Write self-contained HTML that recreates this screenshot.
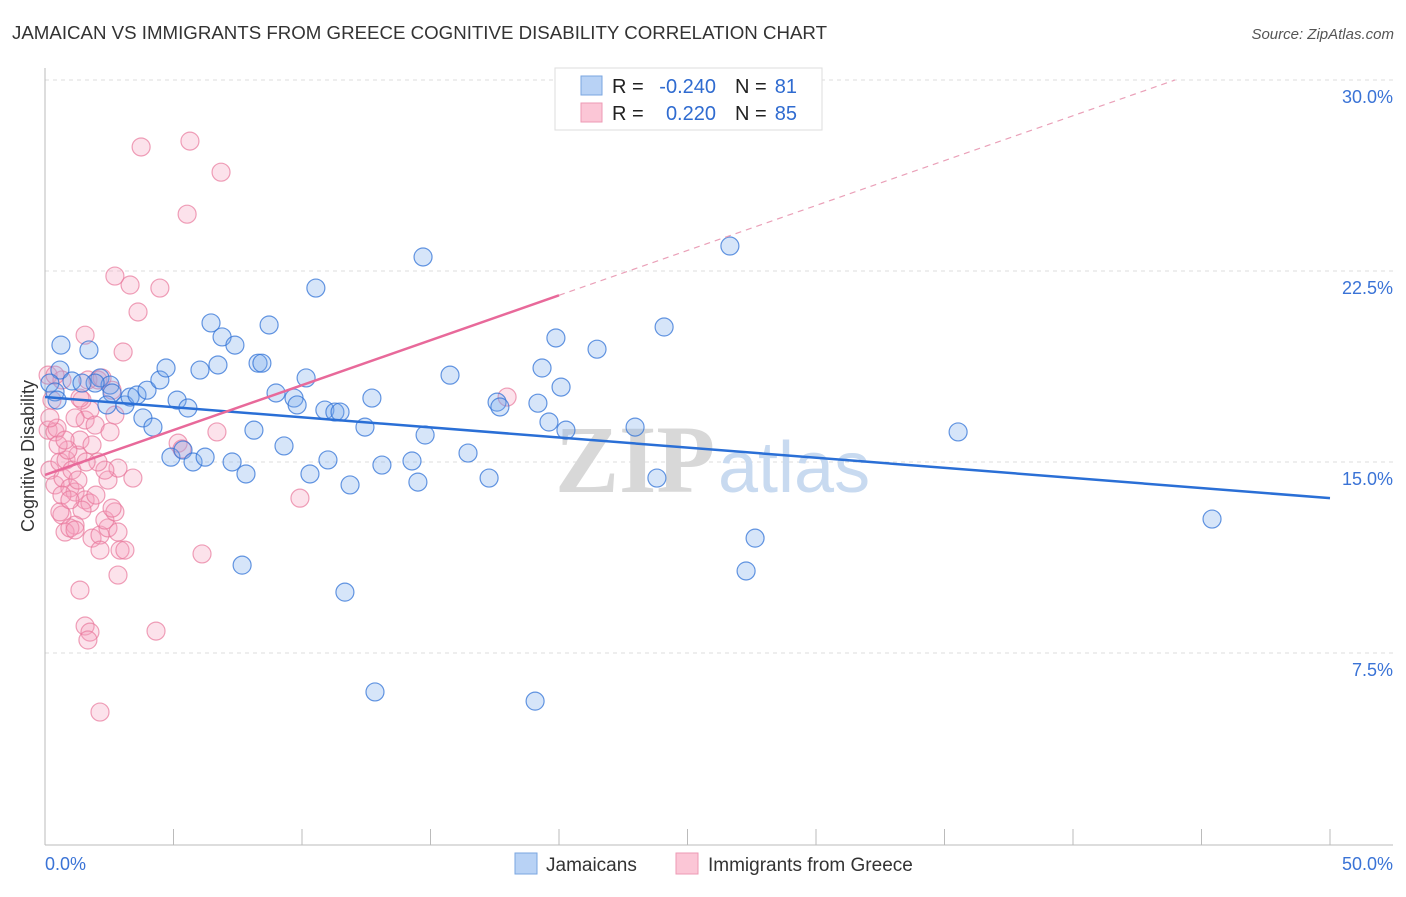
<!DOCTYPE html>
<html><head><meta charset="utf-8"><style>
body{margin:0;background:#fff;width:1406px;height:892px;overflow:hidden;font-family:"Liberation Sans",sans-serif}
</style></head><body>
<svg width="1406" height="892" xmlns="http://www.w3.org/2000/svg">
<text x="12" y="39" font-size="18" fill="#333" textLength="815" lengthAdjust="spacingAndGlyphs">JAMAICAN VS IMMIGRANTS FROM GREECE COGNITIVE DISABILITY CORRELATION CHART</text>
<text x="1394" y="39" font-size="15" fill="#555" font-style="italic" text-anchor="end">Source: ZipAtlas.com</text>
<g id="grid"></g>
<text x="555" y="492" font-size="96" font-family="Liberation Serif,serif" font-weight="bold" fill="#d8d8d8">ZIP</text>
<text x="718" y="492" font-size="72" fill="#c8daf0">atlas</text>
<g id="axes"></g>
<g id="marks"></g>
<text x="34" y="456" font-size="18" fill="#333" text-anchor="middle" transform="rotate(-90 34 456)">Cognitive Disability</text>
<g>
<rect x="555" y="68" width="267" height="62" fill="#fff" stroke="#ddd"/>
<rect x="581" y="76" width="21" height="19" fill="#b8d2f5" stroke="#7aa6e0"/>
<rect x="581" y="103" width="21" height="19" fill="#fbc6d6" stroke="#ee9ab4"/>
<text x="612" y="93" font-size="20" fill="#222">R =</text>
<text x="716" y="93" font-size="20" fill="#2f6bd0" text-anchor="end">-0.240</text>
<text x="735" y="93" font-size="20" fill="#222">N =</text>
<text x="797" y="93" font-size="20" fill="#2f6bd0" text-anchor="end">81</text>
<text x="612" y="120" font-size="20" fill="#222">R =</text>
<text x="716" y="120" font-size="20" fill="#2f6bd0" text-anchor="end">0.220</text>
<text x="735" y="120" font-size="20" fill="#222">N =</text>
<text x="797" y="120" font-size="20" fill="#2f6bd0" text-anchor="end">85</text>
</g>
<g>
<rect x="515" y="853" width="22" height="21" fill="#b8d2f5" stroke="#7aa6e0"/>
<text x="546" y="871" font-size="19" fill="#333">Jamaicans</text>
<rect x="676" y="853" width="22" height="21" fill="#fbc6d6" stroke="#ee9ab4"/>
<text x="708" y="871" font-size="19" fill="#333">Immigrants from Greece</text>
</g>
</svg>
<script>
const yTicks=[7.5,15,22.5,30];
const yTickLabels=["7.5%","15.0%","22.5%","30.0%"];
const xTickLabels=["0.0%","50.0%"];
const blueX=[0.62,1.71,0.58,0.19,0.39,1.05,2.14,2.53,1.95,2.61,3.11,2.41,3.31,3.58,3.97,4.47,4.71,3.81,4.20,5.14,5.56,6.03,6.46,6.89,7.39,6.73,8.29,8.44,8.72,8.99,9.69,9.81,10.16,10.54,10.89,11.28,11.48,12.45,12.72,14.71,15.76,14.79,17.59,17.70,19.18,19.34,19.88,20.08,20.27,19.61,21.48,22.96,24.09,26.65,35.53,45.41,4.90,5.37,5.76,6.23,7.28,7.82,8.13,9.30,10.31,11.01,11.87,13.11,14.28,14.51,16.46,17.28,23.81,27.63,27.28,7.67,11.67,12.84,19.07,1.44,0.47];
const blueY=[19.59,19.40,18.61,18.10,17.75,18.18,18.30,18.02,18.10,17.71,17.24,17.24,17.55,17.63,17.82,18.22,18.69,16.73,16.37,17.43,17.12,18.61,20.46,19.91,19.59,18.81,18.88,18.88,20.38,17.71,17.51,17.24,18.30,21.83,17.04,16.96,16.96,16.37,17.51,23.05,18.41,16.06,17.35,17.16,17.31,18.69,19.87,17.94,16.25,16.57,19.43,16.37,20.30,23.48,16.18,12.76,15.19,15.47,15.00,15.19,15.00,14.53,16.25,15.63,14.53,15.08,14.10,14.88,15.04,14.21,15.35,14.37,14.37,12.01,10.72,10.95,9.89,5.97,5.61,18.10,17.43];
const pinkX=[0.12,0.27,0.12,0.39,0.47,0.19,0.39,0.58,0.82,0.70,0.97,1.17,1.05,1.28,1.36,1.56,1.75,1.95,1.44,1.67,1.36,1.28,1.56,1.75,1.98,1.44,1.17,0.66,0.78,0.97,1.17,1.83,2.14,2.45,2.33,2.72,2.84,2.92,3.11,2.84,2.45,2.84,2.53,2.72,2.61,3.04,3.62,3.31,2.72,4.47,1.56,2.06,2.22,2.33,3.42,1.36,1.56,1.75,1.67,2.14,4.32,6.11,6.69,5.18,5.33,9.92,17.98,3.74,5.64,6.85,5.53,0.58,0.66,0.89,1.17,0.19,0.51,0.78,1.83,2.06,1.60,2.14,0.97,2.61,0.66,0.39];
const pinkY=[18.41,17.43,16.25,16.18,16.33,14.68,14.10,15.00,15.08,14.37,13.98,13.82,14.68,15.27,15.86,16.65,17.04,16.45,17.43,18.22,17.51,14.29,13.51,13.39,13.70,13.11,12.52,12.92,12.25,12.41,12.33,12.01,12.13,12.41,12.72,13.04,12.25,11.54,11.54,10.56,14.29,14.76,16.18,16.84,17.82,19.32,20.89,21.95,22.30,21.83,19.98,18.22,18.30,14.68,14.37,9.97,8.56,8.32,8.01,5.18,8.36,11.39,16.18,15.74,15.51,13.58,17.55,27.37,27.60,26.38,24.73,13.04,13.70,15.47,16.73,16.73,15.67,15.86,15.67,15.00,15.00,11.54,13.51,13.19,18.22,18.41];
const blueTrend=[17.55,13.58];
const pinkTrend=[14.49,0.3527];
const NS="http://www.w3.org/2000/svg";
const X=v=>45+v*25.7, Y=v=>844-v*25.467;
function mk(t,a,p){const e=document.createElementNS(NS,t);for(const k in a)e.setAttribute(k,a[k]);p.appendChild(e);return e;}
const grid=document.getElementById('grid'),axes=document.getElementById('axes'),marks=document.getElementById('marks');
yTicks.forEach((v,i)=>{
const l=mk('line',{x1:45,x2:1393,y1:Y(v),y2:Y(v),stroke:'#ddd','stroke-dasharray':'4,4'},grid);


const t=mk('text',{x:1393,y:Y(v)+23,'font-size':18,fill:'#3a73d6','text-anchor':'end'},axes);
t.textContent=yTickLabels[i];


});
mk('line',{x1:45,x2:45,y1:68,y2:845,stroke:'#bbb'},axes);
mk('line',{x1:45,x2:1393,y1:845,y2:845,stroke:'#bbb'},axes);
for(let i=0;i<=10;i++){mk('line',{x1:X(i*5),x2:X(i*5),y1:829,y2:845,stroke:'#bbb'},axes);}
[0,50].forEach((v,i)=>{const t=mk('text',{x:i?1393:45,y:870,'font-size':18,fill:'#3a73d6','text-anchor':i?'end':'start'},axes);
t.textContent=xTickLabels[i];

});
function dots(xs,ys,fill,stroke,name){xs.forEach((x,i)=>{const c=mk('circle',{cx:X(x),cy:Y(ys[i]),r:9,fill:fill,stroke:stroke,'stroke-width':1.2},marks);

});}
dots(pinkX,pinkY,'rgba(246,160,188,0.3)','rgba(232,120,155,0.7)','greece-point');
dots(blueX,blueY,'rgba(120,170,235,0.3)','rgba(50,115,215,0.75)','jamaican-point');
const bl=mk('line',{x1:X(0),y1:Y(blueTrend[0]),x2:X(50),y2:Y(blueTrend[1]),stroke:'#2a6fd6','stroke-width':2.5},marks);


const pe=(30-pinkTrend[0])/pinkTrend[1];
const pd=mk('line',{x1:X(20),y1:Y(pinkTrend[0]+20*pinkTrend[1]),x2:X(pe),y2:Y(30),stroke:'#eaa0b8','stroke-width':1.2,'stroke-dasharray':'6,5'},marks);


const ps=mk('line',{x1:X(0),y1:Y(pinkTrend[0]),x2:X(20),y2:Y(pinkTrend[0]+20*pinkTrend[1]),stroke:'#e8699a','stroke-width':2.5},marks);


</script>
</body></html>
